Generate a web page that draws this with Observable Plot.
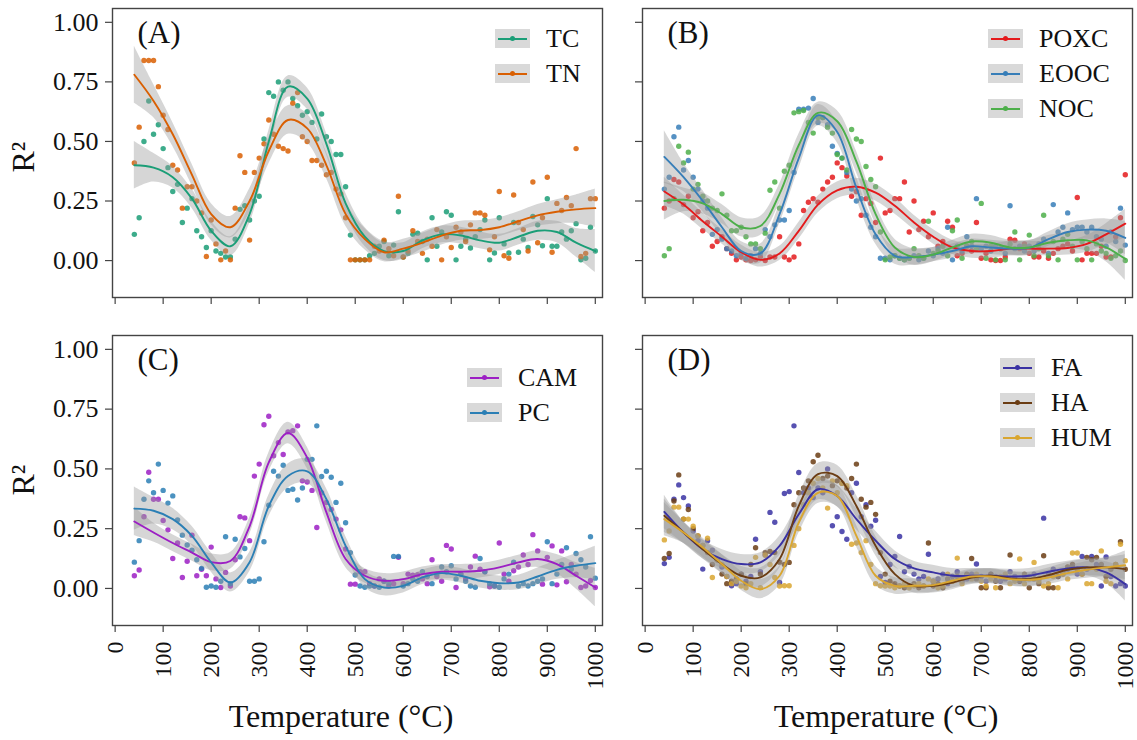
<!DOCTYPE html>
<html><head><meta charset="utf-8">
<script src="https://cdn.jsdelivr.net/npm/d3@7"></script>
<script src="https://cdn.jsdelivr.net/npm/@observablehq/plot@0.6"></script>
<style>
body{margin:0;background:#fff;font-family:"Liberation Serif","Times New Roman",serif;}
#wrap{position:relative;width:1137px;height:740px;overflow:hidden;}
.pnl{position:absolute;}
.pnl text{font-family:"Liberation Serif","Times New Roman",serif !important;}
.pnl g[aria-label="y-axis tick label"], .pnl g[aria-label="y-axis tick label"] text{font-size:26px !important;fill:#111;}
.pnl g[aria-label="x-axis tick label"], .pnl g[aria-label="x-axis tick label"] text{font-size:24px !important;fill:#111;}
.lab{position:absolute;font-size:32px;color:#111;white-space:nowrap;}
.leg{position:absolute;display:flex;align-items:center;font-size:26px;color:#111;white-space:nowrap;}
.key{width:35px;height:19px;background:#d9d9d9;position:relative;margin-right:16px;}
.key i{position:absolute;left:3px;right:3px;top:8.5px;height:2px;}
.key b{position:absolute;left:15px;top:7px;width:5px;height:5px;border-radius:50%;}
</style></head>
<body><div id="wrap"></div>
<script>
// temperature grid of the observations (°C)
const temps = [40,50,60,70,80,90,100,110,120,130,140,150,160,170,180,190,200,210,220,230,240,250,260,270,280,290,300,310,320,330,340,350,360,370,380,390,400,410,420,430,440,450,460,470,480,490,500,510,520,530,540,550,560,570,580,590,600,610,620,630,640,650,660,670,680,690,700,710,720,730,740,750,760,770,780,790,800,810,820,830,840,850,860,870,880,890,900,910,920,930,940,950,960,970,980,990,1000];
// temperature grid of the smoothed fits
const fitTemps = [40,80,120,160,200,240,280,320,360,400,440,480,520,560,600,640,680,720,760,800,840,880,920,960,1000];

const yTicks = [0,0.25,0.5,0.75,1];
const xTicks = [0,100,200,300,400,500,600,700,800,900,1000];

// ---- (A) ----
const TC = [0.11,0.18,0.50,0.67,0.53,0.57,0.47,0.39,0.29,0.32,0.16,0.22,0.26,0.125,0.10,0.055,0.125,0.04,0.03,0.015,0.015,0.09,0.215,0.23,0.17,0.25,0.27,0.51,0.705,0.69,0.75,0.715,0.75,0.68,0.65,0.61,0.625,0.58,0.51,0.615,0.52,0.50,0.445,0.445,0.31,0.107,0.003,0.003,0.003,0.02,0.03,0.06,0.08,0.02,0.065,0.205,0.015,0.03,0.11,0.115,0.08,0.003,0.18,0.06,0.12,0.205,0.19,0.003,0.06,0.09,0.053,0.10,0.13,0.17,0.003,0.032,0.18,0.07,0.032,0.16,0.035,0.09,0.055,0.185,0.15,0.062,0.26,0.06,0.06,0.12,0.09,0.125,0.155,0.003,0.01,0.14,0.04];
const TN = [0.41,0.56,0.84,0.84,0.84,0.73,0.61,0.55,0.40,0.38,0.22,0.31,0.31,0.25,0.20,0.017,0.17,0.07,0.003,0.04,0.003,0.22,0.44,0.37,0.086,0.37,0.43,0.49,0.59,0.53,0.48,0.47,0.46,0.66,0.705,0.52,0.50,0.42,0.42,0.40,0.36,0.37,0.30,0.28,0.18,0.003,0.003,0.003,0.003,0.003,0.06,0.04,0.086,0.05,0.02,0.27,0.015,0.04,0.125,0.08,0.03,0.09,0.06,0.13,0.003,0.10,0.055,0.14,0.12,0.08,0.15,0.20,0.20,0.19,0.045,0.10,0.29,0.02,0.01,0.275,0.16,0.13,0.04,0.33,0.075,0.18,0.35,0.035,0.24,0.21,0.265,0.23,0.47,0.017,0.03,0.26,0.26];
const TC_fit = [0.40,0.39,0.35,0.26,0.125,0.06,0.195,0.50,0.73,0.68,0.49,0.24,0.10,0.04,0.04,0.085,0.11,0.105,0.085,0.075,0.10,0.125,0.12,0.075,0.04];
const TN_fit = [0.78,0.67,0.53,0.36,0.195,0.14,0.25,0.46,0.59,0.555,0.40,0.195,0.09,0.035,0.05,0.075,0.105,0.125,0.128,0.14,0.165,0.19,0.205,0.215,0.22];
const TC_se = [0.10,0.06,0.045,0.04,0.04,0.04,0.04,0.045,0.045,0.045,0.045,0.045,0.04,0.04,0.035,0.035,0.035,0.035,0.035,0.035,0.035,0.04,0.045,0.06,0.09];
const TN_se = [0.12,0.07,0.05,0.045,0.045,0.045,0.05,0.055,0.06,0.06,0.055,0.05,0.045,0.04,0.04,0.04,0.04,0.04,0.04,0.04,0.04,0.045,0.05,0.06,0.08];

// ---- (B) ----
const POXC = [0.22,0.25,0.34,0.33,0.235,0.27,0.18,0.205,0.125,0.16,0.06,0.08,0.10,0.05,0.03,0.003,0.015,0.003,0.0,0.003,0.015,0.0,0.015,0.015,0.10,0.015,0.003,0.015,0.07,0.21,0.245,0.26,0.245,0.30,0.33,0.35,0.41,0.39,0.355,0.27,0.29,0.19,0.26,0.24,0.16,0.43,0.20,0.21,0.26,0.26,0.33,0.12,0.25,0.13,0.165,0.10,0.20,0.06,0.08,0.165,0.14,0.02,0.03,0.06,0.04,0.16,0.01,0.03,0.003,0.0,0.0,0.015,0.09,0.085,0.05,0.07,0.03,0.015,0.015,0.04,0.01,0.03,0.05,0.06,0.07,0.04,0.265,0.003,0.03,0.03,0.03,0.06,0.015,0.015,0.10,0.18,0.36];
const EOOC = [0.30,0.35,0.52,0.56,0.38,0.42,0.35,0.30,0.25,0.22,0.11,0.13,0.09,0.05,0.04,0.02,0.03,0.01,0.02,0.05,0.03,0.13,0.10,0.15,0.17,0.17,0.21,0.37,0.635,0.635,0.64,0.68,0.58,0.60,0.57,0.48,0.45,0.43,0.37,0.30,0.25,0.26,0.19,0.14,0.10,0.01,0.01,0.003,0.02,0.01,0.003,0.01,0.02,0.003,0.01,0.04,0.02,0.05,0.03,0.14,0.003,0.06,0.04,0.10,0.06,0.26,0.05,0.06,0.04,0.06,0.05,0.03,0.23,0.05,0.06,0.04,0.06,0.04,0.07,0.09,0.03,0.235,0.12,0.14,0.20,0.13,0.14,0.14,0.12,0.14,0.10,0.09,0.06,0.12,0.08,0.22,0.065];
const NOC = [0.02,0.05,0.26,0.48,0.41,0.455,0.30,0.32,0.27,0.25,0.22,0.21,0.28,0.19,0.125,0.125,0.14,0.10,0.07,0.07,0.05,0.115,0.295,0.33,0.22,0.375,0.40,0.62,0.625,0.63,0.58,0.535,0.60,0.60,0.56,0.535,0.445,0.43,0.38,0.55,0.51,0.50,0.395,0.34,0.31,0.12,0.003,0.015,0.02,0.01,0.003,0.01,0.05,0.02,0.01,0.165,0.03,0.04,0.06,0.02,0.125,0.17,0.01,0.06,0.08,0.05,0.24,0.01,0.06,0.003,0.05,0.003,0.07,0.12,0.003,0.06,0.107,0.02,0.05,0.19,0.02,0.08,0.003,0.09,0.11,0.06,0.003,0.08,0.05,0.003,0.07,0.04,0.03,0.01,0.02,0.04,0.0];
const POXC_fit = [0.29,0.235,0.165,0.10,0.035,0.003,0.03,0.125,0.235,0.295,0.31,0.285,0.23,0.16,0.10,0.055,0.04,0.04,0.05,0.05,0.05,0.053,0.07,0.11,0.155];
const EOOC_fit = [0.435,0.35,0.25,0.14,0.04,0.03,0.195,0.43,0.61,0.54,0.305,0.11,0.02,0.015,0.025,0.04,0.06,0.055,0.05,0.053,0.09,0.12,0.13,0.125,0.095];
const NOC_fit = [0.25,0.255,0.24,0.195,0.14,0.145,0.28,0.485,0.62,0.585,0.415,0.195,0.055,0.015,0.025,0.055,0.08,0.075,0.055,0.055,0.075,0.085,0.085,0.055,0.007];
const POXC_se = [0.06,0.04,0.035,0.03,0.03,0.03,0.03,0.035,0.035,0.035,0.035,0.035,0.035,0.03,0.03,0.03,0.03,0.03,0.03,0.03,0.03,0.03,0.035,0.045,0.06];
const EOOC_se = [0.11,0.06,0.045,0.04,0.04,0.04,0.04,0.045,0.045,0.045,0.045,0.04,0.035,0.035,0.03,0.03,0.03,0.03,0.03,0.03,0.03,0.035,0.04,0.05,0.07];
const NOC_se = [0.08,0.05,0.045,0.04,0.04,0.04,0.04,0.045,0.045,0.045,0.045,0.04,0.035,0.035,0.03,0.03,0.03,0.03,0.03,0.03,0.03,0.035,0.045,0.06,0.09];

// ---- (C) ----
const CAM = [0.053,0.077,0.30,0.486,0.373,0.373,0.284,0.245,0.125,0.19,0.046,0.114,0.223,0.053,0.08,0.053,0.173,0.04,0.004,0.067,0.01,0.12,0.30,0.295,0.20,0.47,0.52,0.685,0.72,0.555,0.61,0.56,0.655,0.66,0.68,0.45,0.445,0.41,0.255,0.40,0.36,0.33,0.29,0.245,0.165,0.018,0.018,0.07,0.07,0.02,0.01,0.04,0.03,0.01,0.02,0.13,0.02,0.06,0.055,0.057,0.04,0.02,0.12,0.05,0.03,0.18,0.165,0.004,0.06,0.04,0.09,0.135,0.08,0.07,0.007,0.01,0.19,0.06,0.03,0.074,0.09,0.14,0.10,0.225,0.157,0.018,0.13,0.178,0.015,0.157,0.028,0.10,0.06,0.004,0.01,0.033,0.004];
const PC = [0.11,0.20,0.373,0.45,0.40,0.52,0.41,0.357,0.387,0.287,0.223,0.182,0.16,0.12,0.084,0.005,0.01,0.005,0.03,0.216,0.02,0.206,0.132,0.167,0.03,0.03,0.04,0.195,0.348,0.49,0.47,0.515,0.41,0.415,0.37,0.42,0.54,0.54,0.68,0.468,0.49,0.465,0.36,0.44,0.275,0.15,0.056,0.01,0.005,0.01,0.01,0.005,0.03,0.02,0.134,0.134,0.01,0.02,0.04,0.03,0.07,0.05,0.02,0.06,0.09,0.07,0.095,0.04,0.06,0.03,0.01,0.005,0.125,0.07,0.02,0.01,0.005,0.04,0.06,0.11,0.01,0.02,0.01,0.02,0.03,0.04,0.195,0.02,0.06,0.10,0.17,0.08,0.146,0.12,0.09,0.216,0.043];
const CAM_fit = [0.28,0.234,0.19,0.15,0.11,0.115,0.26,0.527,0.65,0.547,0.318,0.123,0.053,0.032,0.039,0.06,0.07,0.07,0.074,0.088,0.109,0.123,0.102,0.053,0.004];
const PC_fit = [0.334,0.325,0.29,0.22,0.109,0.025,0.11,0.345,0.47,0.49,0.373,0.178,0.039,0.004,0.011,0.046,0.064,0.053,0.032,0.022,0.025,0.05,0.078,0.095,0.106];
const CAM_se = [0.06,0.04,0.035,0.035,0.035,0.035,0.035,0.04,0.045,0.045,0.04,0.035,0.03,0.03,0.03,0.03,0.03,0.03,0.03,0.03,0.03,0.035,0.04,0.055,0.08];
const PC_se = [0.09,0.055,0.045,0.04,0.04,0.04,0.04,0.045,0.05,0.05,0.045,0.04,0.035,0.035,0.03,0.03,0.03,0.03,0.03,0.03,0.03,0.035,0.04,0.05,0.07];

// ---- (D) ----
const FA = [0.104,0.13,0.373,0.433,0.38,0.345,0.24,0.20,0.081,0.20,0.16,0.12,0.09,0.05,0.011,0.02,0.06,0.03,0.05,0.206,0.07,0.14,0.318,0.277,0.025,0.397,0.405,0.68,0.485,0.40,0.42,0.38,0.42,0.40,0.50,0.262,0.30,0.238,0.206,0.40,0.44,0.30,0.35,0.26,0.285,0.05,0.025,0.10,0.134,0.217,0.07,0.092,0.06,0.04,0.05,0.143,0.03,0.04,0.06,0.02,0.05,0.07,0.03,0.04,0.06,0.102,0.05,0.03,0.06,0.05,0.03,0.04,0.07,0.05,0.03,0.04,0.05,0.06,0.04,0.294,0.06,0.08,0.05,0.07,0.08,0.09,0.06,0.134,0.08,0.134,0.10,0.01,0.132,0.05,0.01,0.02,0.01];
const HA = [0.125,0.146,0.366,0.475,0.29,0.33,0.25,0.22,0.18,0.15,0.10,0.12,0.06,0.02,0.03,0.04,0.06,0.02,0.10,0.17,0.06,0.15,0.155,0.15,0.11,0.10,0.109,0.35,0.40,0.42,0.45,0.53,0.557,0.46,0.47,0.43,0.45,0.44,0.42,0.46,0.52,0.373,0.34,0.36,0.31,0.15,0.06,0.03,0.02,0.01,0.003,0.01,0.02,0.003,0.01,0.19,0.01,0.02,0.003,0.04,0.03,0.05,0.04,0.06,0.125,0.04,0.003,0.003,0.06,0.03,0.003,0.05,0.14,0.04,0.03,0.06,0.003,0.04,0.02,0.137,0.003,0.003,0.05,0.06,0.09,0.10,0.08,0.06,0.13,0.12,0.13,0.10,0.05,0.08,0.10,0.195,0.08];
const HUM = [0.203,0.24,0.34,0.34,0.29,0.29,0.26,0.22,0.18,0.21,0.046,0.12,0.10,0.05,0.02,0.03,0.01,0.003,0.02,0.13,0.003,0.14,0.10,0.046,0.01,0.011,0.011,0.18,0.25,0.35,0.40,0.44,0.46,0.42,0.336,0.45,0.40,0.44,0.43,0.185,0.19,0.15,0.20,0.10,0.02,0.011,0.01,0.01,0.003,0.01,0.02,0.003,0.01,0.02,0.01,0.04,0.03,0.003,0.01,0.06,0.03,0.127,0.02,0.05,0.04,0.06,0.03,0.01,0.04,0.003,0.05,0.06,0.02,0.03,0.123,0.02,0.04,0.109,0.03,0.01,0.02,0.05,0.003,0.06,0.04,0.148,0.148,0.06,0.02,0.02,0.08,0.157,0.03,0.02,0.10,0.185,0.116];
const FA_fit = [0.32,0.234,0.164,0.123,0.102,0.109,0.178,0.31,0.415,0.387,0.29,0.20,0.123,0.084,0.067,0.053,0.053,0.053,0.05,0.053,0.07,0.084,0.088,0.067,0.018];
const HA_fit = [0.304,0.234,0.164,0.102,0.053,0.046,0.123,0.345,0.478,0.47,0.345,0.178,0.06,0.011,0.011,0.025,0.046,0.053,0.042,0.039,0.056,0.078,0.088,0.088,0.081];
const HUM_fit = [0.29,0.234,0.171,0.102,0.032,-0.003,0.053,0.276,0.40,0.387,0.22,0.053,0.011,0.011,0.014,0.032,0.05,0.05,0.039,0.036,0.046,0.064,0.078,0.088,0.097];
const FA_se = [0.07,0.045,0.04,0.04,0.04,0.04,0.04,0.045,0.045,0.045,0.045,0.04,0.035,0.03,0.03,0.03,0.03,0.03,0.03,0.03,0.03,0.03,0.035,0.045,0.07];
const HA_se = [0.07,0.045,0.04,0.04,0.04,0.04,0.04,0.045,0.045,0.045,0.045,0.04,0.035,0.03,0.03,0.03,0.03,0.03,0.03,0.03,0.03,0.03,0.035,0.04,0.06];
const HUM_se = [0.07,0.045,0.04,0.04,0.04,0.04,0.04,0.045,0.045,0.045,0.045,0.04,0.035,0.03,0.03,0.03,0.03,0.03,0.03,0.03,0.03,0.03,0.035,0.04,0.06];

const panels = [
  {tag:"(A)", names:["TC","TN"], colors:["#1b9e77","#d95f02"], obs:[TC,TN], fit:[TC_fit,TN_fit], se:[TC_se,TN_se],
   box:{left:0,top:0,width:612,height:310}, m:{top:8,right:10,bottom:13,left:112}, yLab:true, xLab:false,
   legend:{left:495, top:29}},
  {tag:"(B)", names:["POXC","EOOC","NOC"], colors:["#e41a1c","#377eb8","#4daf4a"], obs:[POXC,EOOC,NOC], fit:[POXC_fit,EOOC_fit,NOC_fit], se:[POXC_se,EOOC_se,NOC_se],
   box:{left:620,top:0,width:517,height:310}, m:{top:8,right:5,bottom:13,left:22}, yLab:false, xLab:false,
   legend:{left:988, top:29}},
  {tag:"(C)", names:["CAM","PC"], colors:["#9c1fc4","#2b7fb5"], obs:[CAM,PC], fit:[CAM_fit,PC_fit], se:[CAM_se,PC_se],
   box:{left:0,top:320,width:612,height:420}, m:{top:15,right:10,bottom:115,left:112}, yLab:true, xLab:true,
   legend:{left:467, top:368}},
  {tag:"(D)", names:["FA","HA","HUM"], colors:["#3a32a3","#6b3d14","#d9a630"], obs:[FA,HA,HUM], fit:[FA_fit,HA_fit,HUM_fit], se:[FA_se,HA_se,HUM_se],
   box:{left:620,top:320,width:517,height:420}, m:{top:15,right:5,bottom:115,left:22}, yLab:false, xLab:true,
   legend:{left:1000, top:358}}
];

const wrap = document.getElementById("wrap");
const font = '"Liberation Serif","Times New Roman",serif';

for (const p of panels) {
  const pts = [], fits = [];
  p.names.forEach((n, k) => {
    temps.forEach((t, i) => pts.push({series:n, T:t, R:p.obs[k][i]}));
    fitTemps.forEach((t, i) => fits.push({series:n, T:t, fit:p.fit[k][i], lo:p.fit[k][i]-p.se[k][i], hi:p.fit[k][i]+p.se[k][i]}));
  });
  const svg = Plot.plot({
    width:p.box.width, height:p.box.height,
    marginTop:p.m.top, marginRight:p.m.right, marginBottom:p.m.bottom, marginLeft:p.m.left,
    style:{fontFamily:font, fontSize:"24px", color:"#222", background:"transparent"},
    x:{domain:[-5.5,1015]},
    y:{domain:[-0.155,1.058]},
    color:{domain:p.names, range:p.colors},
    marks:[
      Plot.dot(pts, {x:"T", y:"R", fill:"series", r:2.7, fillOpacity:0.85, stroke:"none"}),
      Plot.areaY(fits, {x:"T", y1:"lo", y2:"hi", z:"series", fill:"#999", fillOpacity:0.4, curve:"catmull-rom"}),
      Plot.line(fits, {x:"T", y:"fit", stroke:"series", strokeWidth:1.9, curve:"catmull-rom"}),
      Plot.text([p.tag], {frameAnchor:"top-left", dx:25, dy:12, text:d=>d, fontSize:31, fontFamily:font, textAnchor:"start", lineAnchor:"top", fill:"#111"}),
      Plot.frame({stroke:"#444", strokeWidth:1.4}),
      Plot.axisY({ticks:yTicks, tickSize:7, tickPadding:7, tickFormat: p.yLab ? d3.format(".2f") : () => "", label:null, fontSize:26, fontFamily:font, stroke:"#444", strokeWidth:1.2}),
      Plot.axisX({ticks:xTicks, tickSize:7, tickPadding:9, tickRotate:-90, tickFormat: p.xLab ? d => String(d) : () => "", label:null, fontSize:24, fontFamily:font, stroke:"#444", strokeWidth:1.2})
    ]
  });
  svg.classList.add("pnl");
  svg.style.left = p.box.left + "px";
  svg.style.top = p.box.top + "px";
  wrap.appendChild(svg);

  p.names.forEach((n, k) => {
    const row = document.createElement("div");
    row.className = "leg";
    row.style.left = p.legend.left + "px";
    row.style.top = (p.legend.top + 35 * k) + "px";
    row.style.height = "19px";
    row.innerHTML = `<span class="key"><i style="background:${p.colors[k]}"></i><b style="background:${p.colors[k]}"></b></span><span>${n}</span>`;
    wrap.appendChild(row);
  });
}

// axis titles
function addLabel(text, x, y, rot) {
  const d = document.createElement("div");
  d.className = "lab";
  d.textContent = text;
  d.style.left = x + "px";
  d.style.top = y + "px";
  d.style.transform = `translate(-50%,-50%)` + (rot ? ` rotate(${rot}deg)` : "");
  wrap.appendChild(d);
}
addLabel("R²", 23, 157, -90);
addLabel("R²", 23, 480, -90);
addLabel("Temperature (°C)", 341, 716, 0);
addLabel("Temperature (°C)", 886, 716, 0);
</script>
</body></html>
